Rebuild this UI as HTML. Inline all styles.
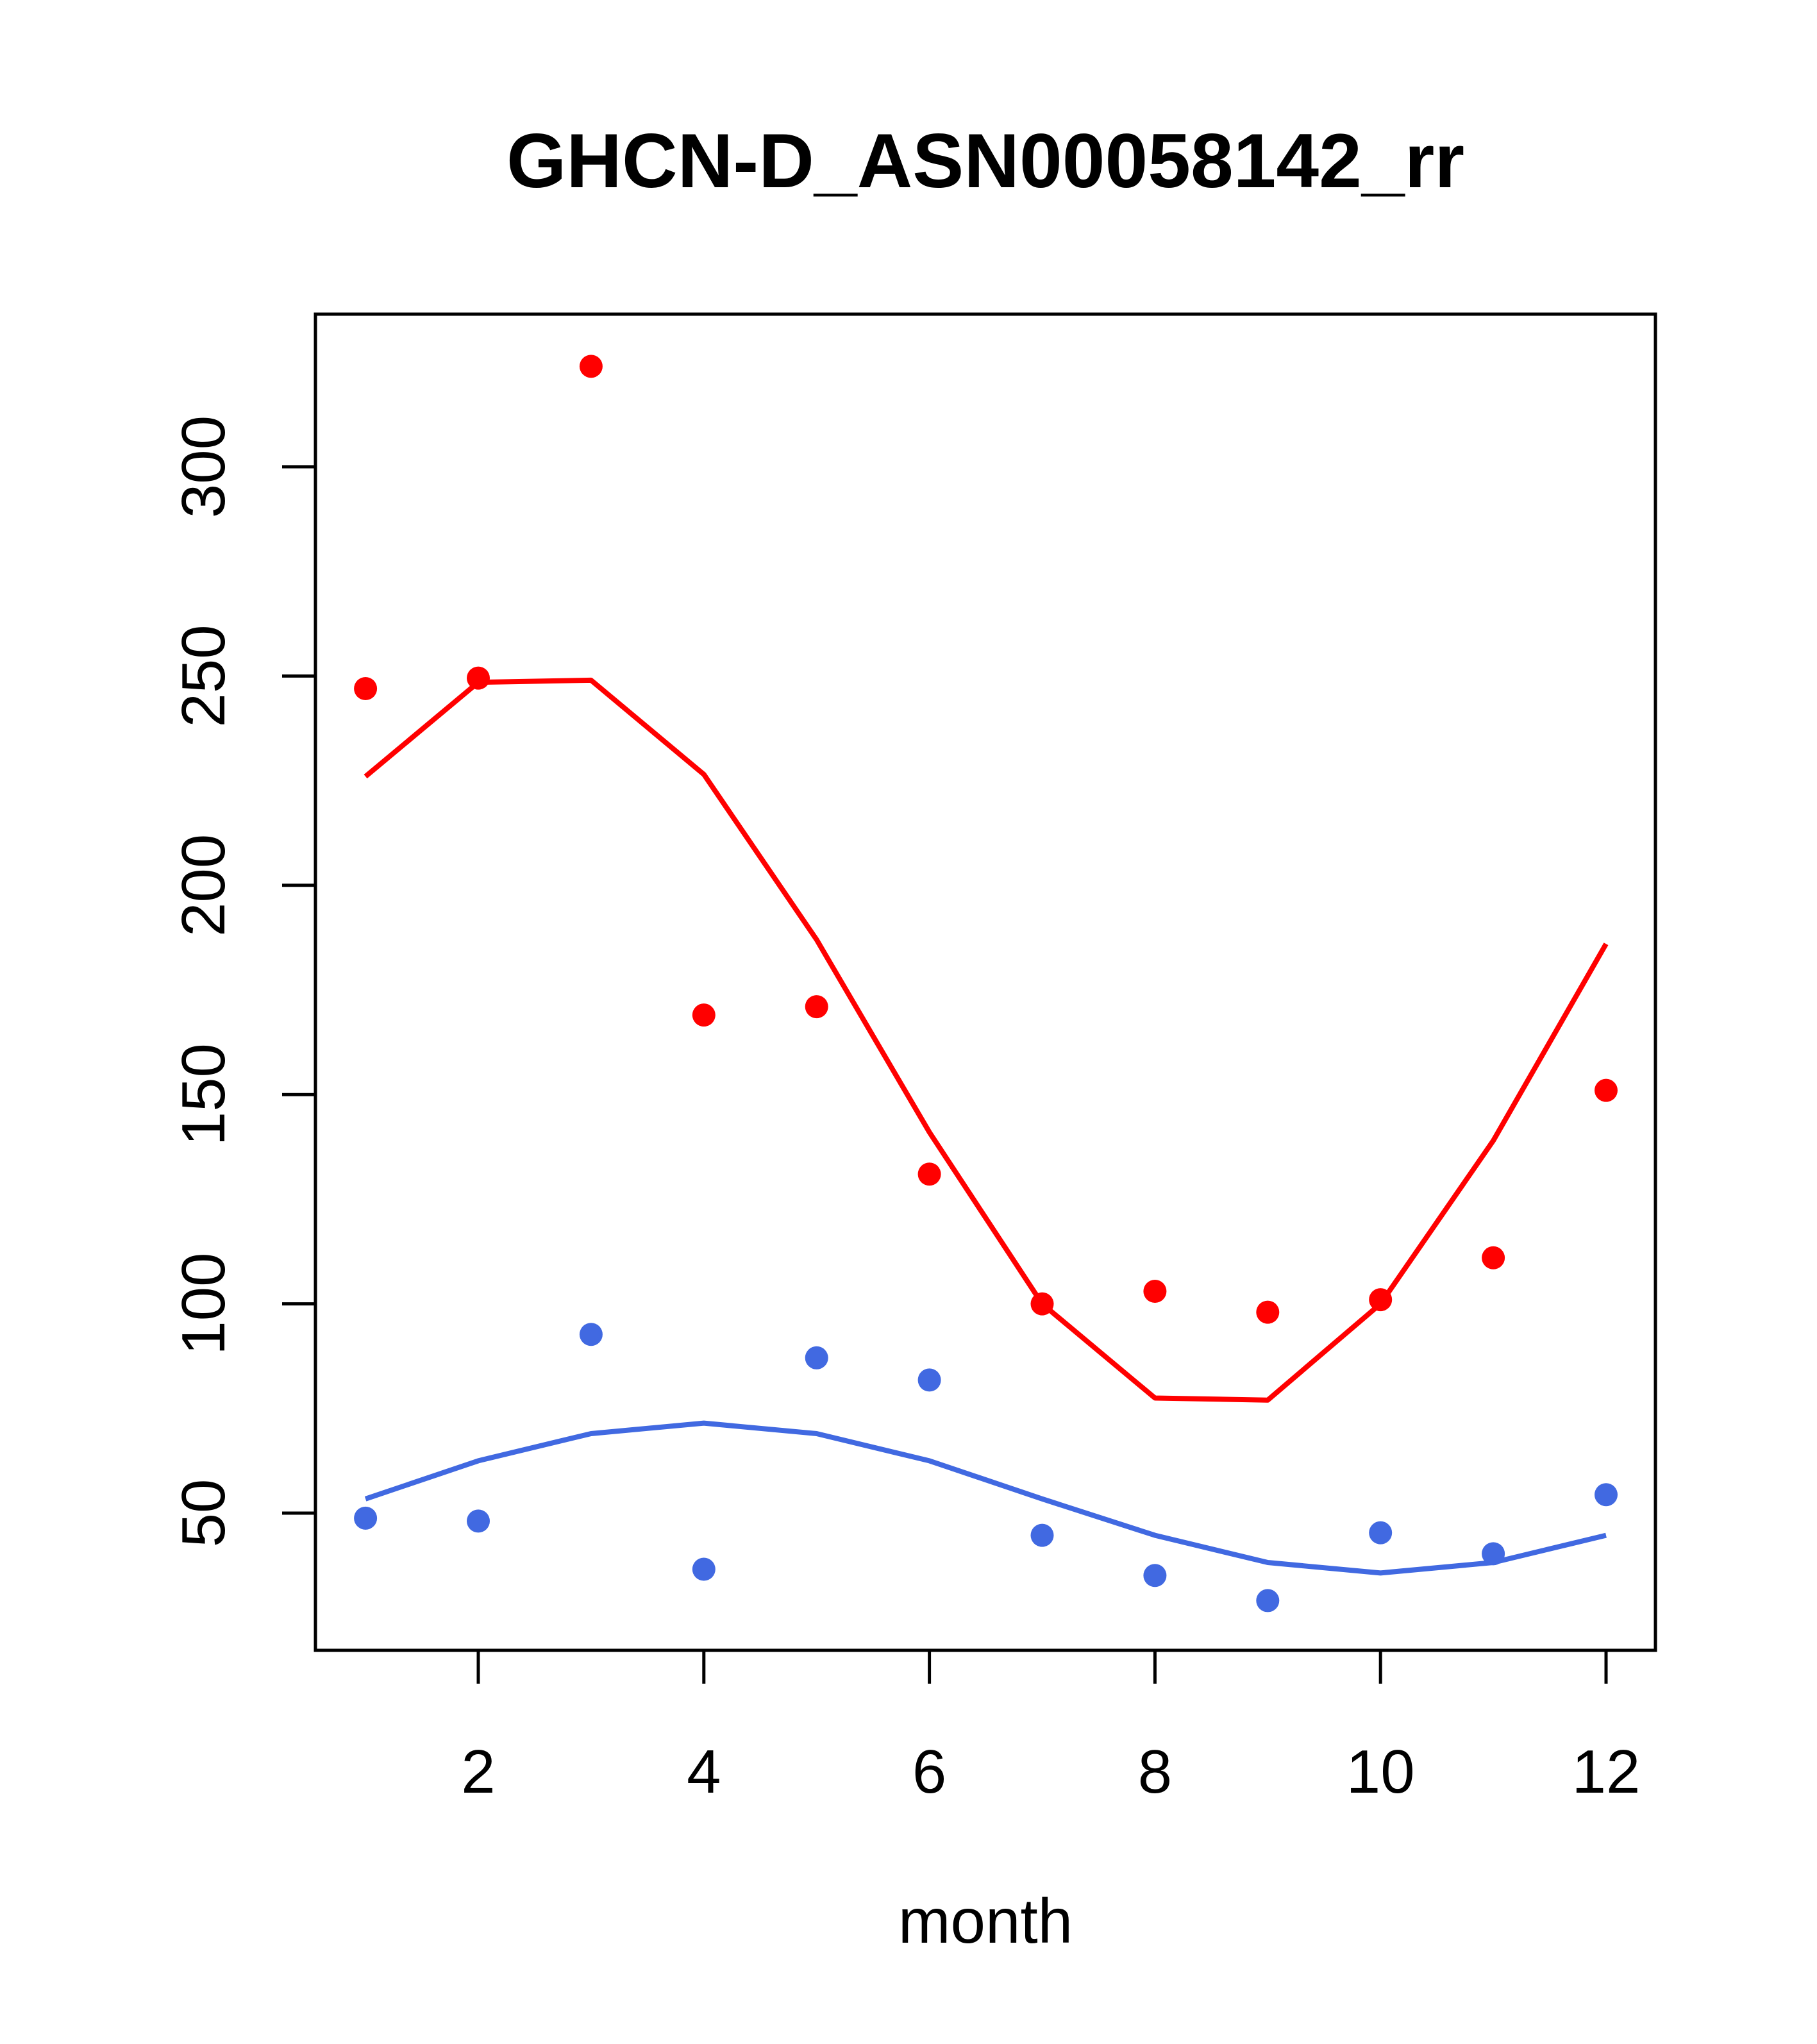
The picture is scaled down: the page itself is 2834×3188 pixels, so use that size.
<!DOCTYPE html>
<html><head><meta charset="utf-8"><style>
html,body{margin:0;padding:0;background:#fff;}
svg{display:block;font-family:"Liberation Sans",Arial,sans-serif;}
</style></head><body>
<svg id="chart" width="2834" height="3188" viewBox="0 0 2834 3188" xmlns="http://www.w3.org/2000/svg">
<rect width="2834" height="3188" fill="#fff"/>
<text x="1537" y="292" font-size="120" font-weight="bold" text-anchor="middle">GHCN-D_ASN00058142_rr</text>
<rect x="492" y="490" width="2090" height="2084" fill="none" stroke="#000" stroke-width="5"/>
<g id="xaxis"></g>
<g id="yaxis"></g>
<text x="1537" y="3030" font-size="98" text-anchor="middle">month</text>
<g id="series"></g>
</svg>
<script>
const months = [1,2,3,4,5,6,7,8,9,10,11,12];
const redPoints = [247,249.5,324,169,171,131,100,103,98,101,111,151];
const redLine = [226,248.5,249,226.5,187,141,100,77.5,77,100,139,186];
const bluePoints = [48.8,48.1,92.7,36.6,87.1,81.8,44.7,35.1,29.1,45.3,40.3,54.4];
const blueLine = [53.4,62.5,69,71.5,69,62.5,53.4,44.7,38.2,35.7,38.2,44.7];
const xTicks = [2,4,6,8,10,12];
const yTicks = [50,100,150,200,250,300];

const NS = "http://www.w3.org/2000/svg";
function xs(m){ return 746 + (m-2)*(2505-746)/10; }
function ys(v){ return 2360 - (v-50)*(2360-728)/250; }
function mk(tag, attrs, parent){ const e=document.createElementNS(NS,tag); for(const k in attrs) e.setAttribute(k,attrs[k]); parent.appendChild(e); return e; }

const xa=document.getElementById('xaxis');
xTicks.forEach(t=>{
  const l=mk('line',{x1:xs(t),x2:xs(t),y1:2574,y2:2626,stroke:'#000','stroke-width':5},xa);
  
  
  const tx=mk('text',{x:xs(t),y:2796,'font-size':96,'text-anchor':'middle'},xa);
  tx.textContent=t;
  
  
});
const ya=document.getElementById('yaxis');
yTicks.forEach(t=>{
  const l=mk('line',{x1:440,x2:492,y1:ys(t),y2:ys(t),stroke:'#000','stroke-width':5},ya);
  
  
  const tx=mk('text',{x:0,y:0,'font-size':96,'text-anchor':'middle',transform:`translate(350,${ys(t)}) rotate(-90)`},ya);
  tx.textContent=t;
  
  
});

const sg=document.getElementById('series');
function line(vals,color,name){
  const p=mk('polyline',{points:vals.map((v,i)=>xs(months[i])+','+ys(v)).join(' '),fill:'none',stroke:color,'stroke-width':8,'stroke-linejoin':'round'},sg);
  
  
}
function pts(vals,color,name){
  vals.forEach((v,i)=>{
    const c=mk('circle',{cx:xs(months[i]),cy:ys(v),r:18,fill:color},sg);
    
    
  });
}
line(redLine,'#ff0000','red-fit-line');
line(blueLine,'#4169e1','blue-fit-line');
pts(redPoints,'#ff0000','red-point');
pts(bluePoints,'#4169e1','blue-point');
</script>
</body></html>
